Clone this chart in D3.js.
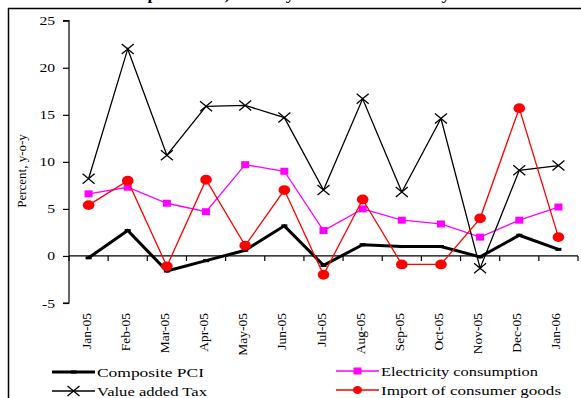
<!DOCTYPE html>
<html><head><meta charset="utf-8">
<script src="https://cdn.jsdelivr.net/npm/d3@7"></script>
<style>
html,body{margin:0;padding:0;background:#fff;overflow:hidden;}
svg{display:block;font-family:"Liberation Serif","Times New Roman",serif;}
</style></head>
<body><svg id="c" width="581" height="398"></svg>
<script>
const months = ["Jan-05","Feb-05","Mar-05","Apr-05","May-05","Jun-05","Jul-05","Aug-05","Sep-05","Oct-05","Nov-05","Dec-05","Jan-06"];
const pci = [-0.2,2.7,-1.6,-0.5,0.6,3.2,-1.0,1.2,1.0,1.0,-0.1,2.2,0.7];
const electricity = [6.6,7.3,5.6,4.7,9.7,9.0,2.7,5.0,3.8,3.4,2.0,3.8,5.2];
const vat = [8.2,22.0,10.7,15.9,16.0,14.7,7.0,16.7,6.8,14.6,-1.3,9.1,9.6];
const imports = [5.4,8.0,-1.1,8.1,1.1,7.0,-2.0,6.0,-0.9,-0.9,4.0,15.7,2.0];
const yTicks = [-5,0,5,10,15,20,25];
const seriesNames = ["Composite PCI","Electricity consumption","Value added Tax","Import of consumer goods"];
const titleText = "Composite PCI, monthly indicators of activity";
const yLabel = "Percent, y-o-y";

const svg = d3.select("#c");
const SX = 1.2; // horizontal stretch of text in the original

// frame
svg.append("line").attr("x1",8).attr("x2",581).attr("y1",8.5).attr("y2",8.5).attr("stroke","#000").attr("stroke-width",1.5);
svg.append("line").attr("x1",8.5).attr("x2",8.5).attr("y1",8).attr("y2",398).attr("stroke","#000").attr("stroke-width",1.5);

// clipped title (only descenders visible)
svg.append("text").attr("transform","translate(112,-0.5) scale(1.15,1)")
  .attr("font-weight","bold").attr("font-size",15).text(titleText);

const x = d3.scaleBand().domain(months).range([69,578]).padding(0);
const y = d3.scaleLinear().domain([-5,25]).range([303,20.7]);
const cx = d => x(d) + x.bandwidth()/2;

// y axis
const yAxis = svg.append("g").attr("transform","translate(69,0)")
  .call(d3.axisLeft(y).tickValues(yTicks).tickSize(6).tickFormat(d3.format("d")));
yAxis.select(".domain").attr("stroke","#000").attr("stroke-width",1.2).attr("d","M-6,"+y(25)+"H0V"+y(-5)+"H-6");
yAxis.selectAll(".tick line").attr("stroke","#000").attr("stroke-width",1.2);
yAxis.selectAll(".tick text").remove();
yTicks.forEach(v=>{
  svg.append("text").attr("transform",`translate(55,${y(v)+4.5}) scale(${SX},1)`)
    .attr("text-anchor","end").attr("font-size",13).text(v);
});

// x axis at zero
const xAxisG = svg.append("g").attr("transform",`translate(0,${y(0)})`);
xAxisG.append("line").attr("x1",69).attr("x2",578).attr("stroke","#000").attr("stroke-width",1.2);
const bounds = months.map(m=>x(m)).concat([x(months[months.length-1])+x.bandwidth()]);
xAxisG.selectAll("line.tk").data(bounds).join("line").attr("class","tk")
  .attr("x1",d=>d).attr("x2",d=>d).attr("y1",0).attr("y2",5).attr("stroke","#000").attr("stroke-width",1.2);
svg.selectAll("text.xl").data(months).join("text").attr("class","xl")
  .attr("transform",d=>`translate(${cx(d)+2},313) rotate(-90)`)
  .attr("text-anchor","end").attr("font-size",13.5).text(d=>d);

// y label
svg.append("text").attr("transform","translate(26,171) rotate(-90)")
  .attr("text-anchor","middle").attr("font-size",13).text(yLabel);

const line = d3.line().x((d,i)=>cx(months[i])).y(d=>y(d));

function drawX(g, px, py){
  g.append("path").attr("d",`M${px-6},${py-5}L${px+6},${py+5}M${px-6},${py+5}L${px+6},${py-5}`)
   .attr("stroke","#000").attr("stroke-width",1.3).attr("fill","none");
}

// Composite PCI
svg.append("path").datum(pci).attr("d",line).attr("fill","none").attr("stroke","#000").attr("stroke-width",3).attr("stroke-linejoin","miter");
svg.selectAll("rect.pm").data(pci).join("rect").attr("class","pm")
  .attr("x",(d,i)=>cx(months[i])-3).attr("y",d=>y(d)-1.5).attr("width",6).attr("height",3).attr("fill","#000");

// Electricity
svg.append("path").datum(electricity).attr("d",line).attr("fill","none").attr("stroke","#FF00FF").attr("stroke-width",1.3);
svg.selectAll("rect.em").data(electricity).join("rect").attr("class","em")
  .attr("x",(d,i)=>cx(months[i])-4).attr("y",d=>y(d)-3.5).attr("width",8).attr("height",7).attr("fill","#FF00FF");

// VAT
svg.append("path").datum(vat).attr("d",line).attr("fill","none").attr("stroke","#000").attr("stroke-width",1.3);
const vg = svg.append("g");
vat.forEach((d,i)=>drawX(vg, cx(months[i]), y(d)));

// Imports
svg.append("path").datum(imports).attr("d",line).attr("fill","none").attr("stroke","#FF0000").attr("stroke-width",1.3);
svg.selectAll("ellipse.im").data(imports).join("ellipse").attr("class","im")
  .attr("cx",(d,i)=>cx(months[i])).attr("cy",d=>y(d)).attr("rx",5.8).attr("ry",4.9).attr("fill","#FF0000");

// Legend
const leg = [
  {name:seriesNames[0], x:52, y:372, type:"pci"},
  {name:seriesNames[2], x:52, y:391, type:"vat"},
  {name:seriesNames[1], x:336, y:371, type:"el"},
  {name:seriesNames[3], x:336, y:390, type:"im"}
];
const legW = {"pci":107,"vat":110,"el":157,"im":180};
leg.forEach(l=>{
  const w = 43, mx = l.x + w/2;
  const col = l.type==="el" ? "#FF00FF" : l.type==="im" ? "#FF0000" : "#000";
  svg.append("line").attr("x1",l.x).attr("x2",l.x+w).attr("y1",l.y).attr("y2",l.y)
    .attr("stroke",col).attr("stroke-width",l.type==="pci"?3:1.3);
  if(l.type==="vat") drawX(svg, mx, l.y);
  if(l.type==="el") svg.append("rect").attr("x",mx-4).attr("y",l.y-3.5).attr("width",8).attr("height",7).attr("fill",col);
  if(l.type==="im") svg.append("ellipse").attr("cx",mx).attr("cy",l.y).attr("rx",4.5).attr("ry",4).attr("fill",col);
  if(l.type==="pci") svg.append("rect").attr("x",mx-3).attr("y",l.y-1.5).attr("width",6).attr("height",3).attr("fill",col);
  svg.append("text").attr("x",l.x+w+2).attr("y",l.y+4.5).attr("font-size",13)
    .attr("textLength",legW[l.type]).attr("lengthAdjust","spacingAndGlyphs").text(l.name);
});
</script></body></html>
